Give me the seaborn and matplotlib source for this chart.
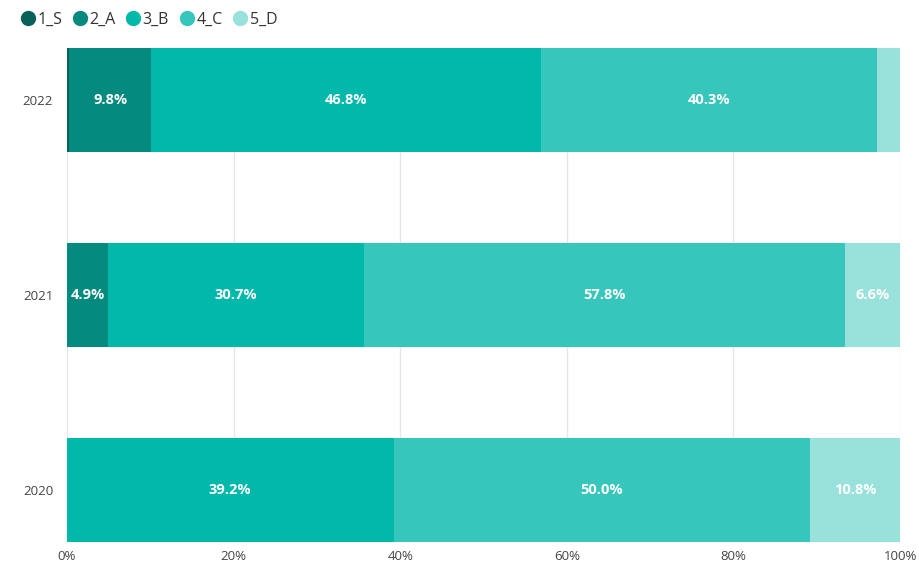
import matplotlib
matplotlib.use("Agg")
import matplotlib.pyplot as plt
from matplotlib.lines import Line2D
import seaborn as sns
import pandas as pd
import numpy as np

years = ["2022", "2021", "2020"]
series = ["1_S", "2_A", "3_B", "4_C", "5_D"]
s_1 = [0.3, 0.0, 0.0]
s_2 = [9.8, 4.9, 0.0]
s_3 = [46.8, 30.7, 39.2]
s_4 = [40.3, 57.8, 50.0]
s_5 = [2.8, 6.6, 10.8]
colors = ["#09615A", "#048A7E", "#02B8AA", "#37C6BB", "#98E2DB"]

sns.set_theme(style="white")
plt.rcParams["font.family"] = ["Open Sans", "DejaVu Sans"]

df = pd.DataFrame({"year": years, "1_S": s_1, "2_A": s_2, "3_B": s_3,
                   "4_C": s_4, "5_D": s_5})
cum = df[series].cumsum(axis=1)

fig = plt.figure(figsize=(9.2, 5.67), dpi=100)
ax = fig.add_axes([67 / 920, 1 - 542 / 567, 833 / 920, 494 / 567])

h = 104 / 195
# draw cumulative totals from the widest down so each segment shows
for name, col in reversed(list(zip(series, colors))):
    sns.barplot(x=cum[name], y=df["year"], order=years, color=col,
                width=h, orient="h", ax=ax, saturation=1, linewidth=0)

for name in series:
    for i, yr in enumerate(years):
        v = df.loc[i, name]
        if v >= 4:
            ax.text(cum.loc[i, name] - v / 2, i, f"{v:.1f}%", ha="center",
                    va="center", color="white", fontsize=10.5, fontweight="bold")

ax.set_xlim(0, 100)
ax.set_ylim(2 + h / 2, -h / 2)
ax.set_xticks(np.arange(0, 101, 20))
ax.set_xticklabels([f"{t}%" for t in range(0, 101, 20)])
ax.tick_params(axis="x", labelsize=9.5, colors="#444444", length=0, pad=6)
ax.tick_params(axis="y", labelsize=9.5, colors="#444444", length=0, pad=10)
ax.set_xlabel("")
ax.set_ylabel("")
ax.grid(axis="x", color="#e6e6e6", linewidth=1)
ax.set_axisbelow(True)
for sp in ax.spines.values():
    sp.set_visible(False)

handles = [Line2D([], [], marker="o", linestyle="", markersize=10,
                  markerfacecolor=c, markeredgecolor=c) for c in colors]
fig.legend(handles, series, loc="upper left", bbox_to_anchor=(0.004, 1.005),
           ncol=5, frameon=False, fontsize=11.5, handletextpad=0.0,
           columnspacing=0.5, handlelength=1.2, labelcolor="#333333")

fig.savefig("out.png", dpi=100)
